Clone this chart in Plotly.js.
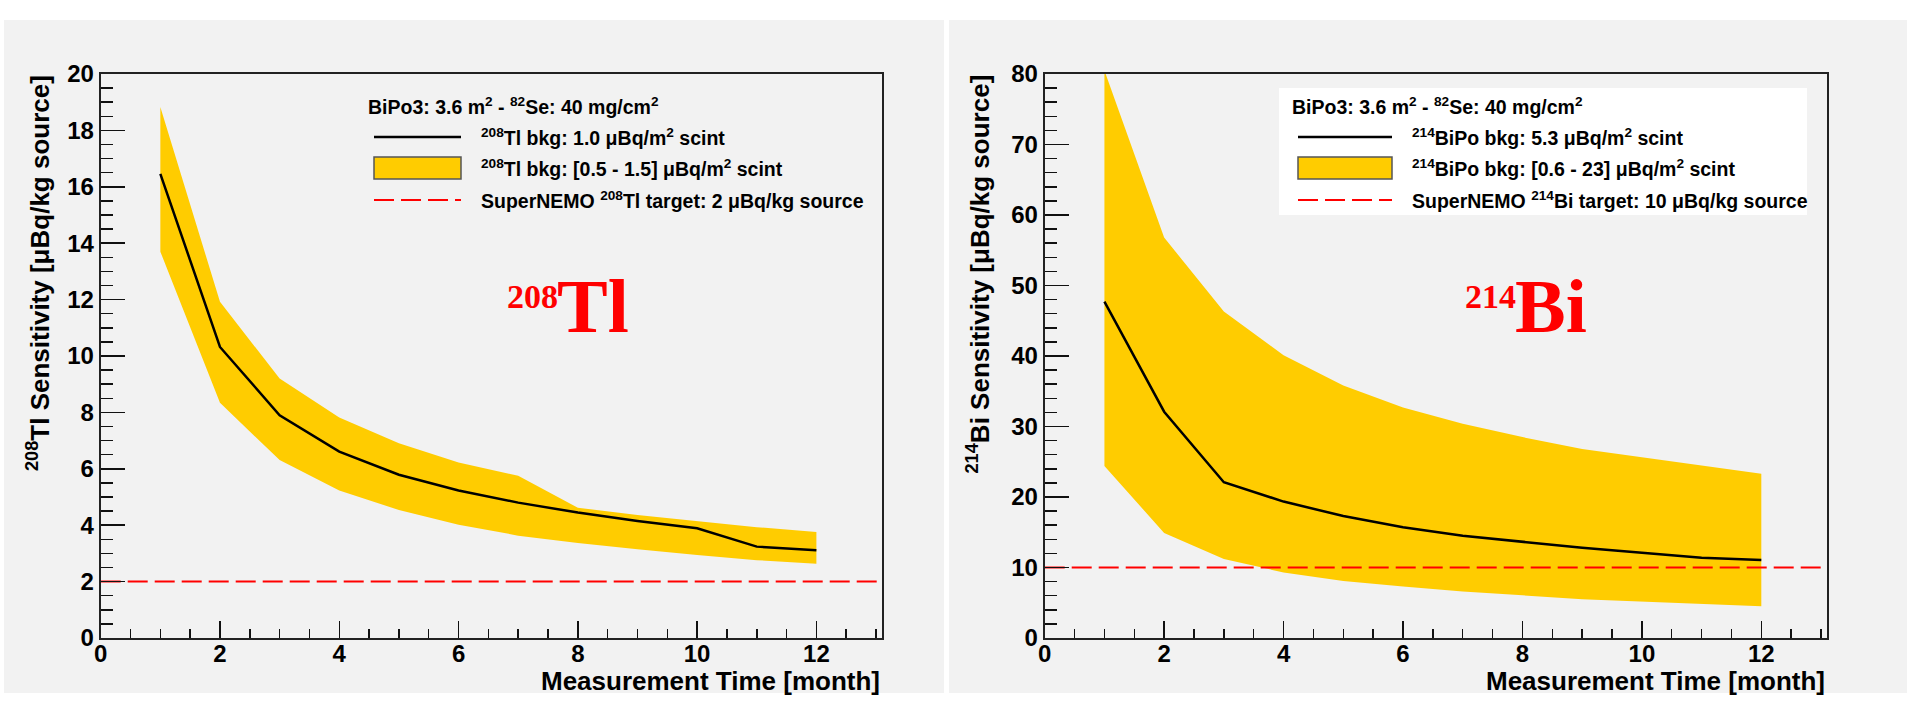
<!DOCTYPE html>
<html>
<head>
<meta charset="utf-8">
<script src="https://cdn.plot.ly/plotly-3.0.1.min.js"></script>
<style>
  html, body { margin: 0; padding: 0; background: #ffffff; }
  #chart { width: 1907px; height: 703px; }
</style>
</head>
<body>
<div id="chart"></div>
<script>
// Measurement time in months
const months = [1, 2, 3, 4, 5, 6, 7, 8, 9, 10, 11, 12];

// 208Tl sensitivity [uBq/kg source]
const tlNominal = [16.46, 10.32, 7.90, 6.61, 5.79, 5.23, 4.80, 4.45, 4.15, 3.89, 3.24, 3.11];
const tlUpper   = [18.83, 11.92, 9.20, 7.82, 6.91, 6.22, 5.75, 4.62, 4.36, 4.15, 3.93, 3.76];
const tlLower   = [13.70, 8.34, 6.31, 5.23, 4.54, 4.02, 3.63, 3.37, 3.15, 2.94, 2.76, 2.63];
const tlTarget  = 2;

// 214Bi sensitivity [uBq/kg source]
const biNominal = [47.7, 32.1, 22.1, 19.35, 17.3, 15.7, 14.5, 13.65, 12.8, 12.1, 11.4, 11.05];
const biUpper   = [80.5, 56.8, 46.3, 40.1, 35.8, 32.7, 30.4, 28.5, 26.8, 25.6, 24.5, 23.3];
const biLower   = [24.4, 14.9, 11.2, 9.3, 8.1, 7.3, 6.6, 6.05, 5.5, 5.2, 4.85, 4.5];
const biTarget  = 10;

// Axis ranges and tick labels
const xRange   = [0, 13.1];
const tlYRange = [0, 20];
const biYRange = [0, 80];
const xTicks   = [0, 2, 4, 6, 8, 10, 12];
const tlYTicks = [0, 2, 4, 6, 8, 10, 12, 14, 16, 18, 20];
const biYTicks = [0, 10, 20, 30, 40, 50, 60, 70, 80];

const W = 1907, H = 703;
const px = v => v / W;
const py = v => 1 - v / H;

const BAND = '#ffcc00';
const RED = '#ff0000';
const DASH = '20px,7px';
const FONT = 'Liberation Sans, Arial, Helvetica, sans-serif';
const SERIF = 'Liberation Serif, Times New Roman, serif';

function bandTrace(upper, lower, xa, ya) {
  return {
    x: months.concat(months.slice().reverse()),
    y: upper.concat(lower.slice().reverse()),
    xaxis: xa, yaxis: ya,
    type: 'scatter', mode: 'lines',
    fill: 'toself', fillcolor: BAND,
    line: { width: 0, color: BAND },
    hoverinfo: 'skip', showlegend: false
  };
}
function nominalTrace(vals, xa, ya) {
  return {
    x: months, y: vals, xaxis: xa, yaxis: ya,
    type: 'scatter', mode: 'lines',
    line: { color: '#000000', width: 2.5 },
    showlegend: false
  };
}
function targetTrace(val, xa, ya) {
  return {
    x: xRange, y: [val, val], xaxis: xa, yaxis: ya,
    type: 'scatter', mode: 'lines',
    line: { color: RED, width: 2, dash: DASH },
    showlegend: false
  };
}

const traces = [
  bandTrace(tlUpper, tlLower, 'x', 'y'),
  targetTrace(tlTarget, 'x', 'y'),
  nominalTrace(tlNominal, 'x', 'y'),
  bandTrace(biUpper, biLower, 'x2', 'y2'),
  targetTrace(biTarget, 'x2', 'y2'),
  nominalTrace(biNominal, 'x2', 'y2')
];

const tickFont = { family: FONT, size: 24, weight: 700, color: '#000000' };

function xAxis(domain, anchor) {
  return {
    domain: domain, anchor: anchor, range: xRange,
    tickmode: 'array', tickvals: xTicks, ticktext: xTicks.map(String),
    ticks: 'inside', ticklen: 17, tickwidth: 1.5, tickcolor: '#111',
    ticklabelstandoff: -7,
    minor: { ticks: 'inside', ticklen: 9, tickwidth: 1.5, tickcolor: '#111', dtick: 0.5, tick0: 0, showgrid: false },
    showline: true, linecolor: '#222', linewidth: 2, mirror: true,
    showgrid: false, zeroline: false, tickfont: tickFont, fixedrange: true
  };
}
function yAxis(domain, anchor, range, ticks, minorStep) {
  return {
    domain: domain, anchor: anchor, range: range,
    tickmode: 'array', tickvals: ticks, ticktext: ticks.map(String),
    ticks: 'inside', ticklen: 24, tickwidth: 1.5, tickcolor: '#111',
    minor: { ticks: 'inside', ticklen: 12, tickwidth: 1.5, tickcolor: '#111', dtick: minorStep, tick0: 0, showgrid: false },
    showline: true, linecolor: '#222', linewidth: 2, mirror: true,
    showgrid: false, zeroline: false, tickfont: tickFont, fixedrange: true
  };
}

const yDomain = [py(638), py(74)];

const shapes = [
  // gray canvas pads
  { type: 'rect', xref: 'paper', yref: 'paper', layer: 'below',
    x0: px(4), x1: px(944), y0: py(693), y1: py(20),
    fillcolor: '#f2f2f2', line: { width: 0 } },
  { type: 'rect', xref: 'paper', yref: 'paper', layer: 'below',
    x0: px(949), x1: px(1907), y0: py(693), y1: py(20),
    fillcolor: '#f2f2f2', line: { width: 0 } },
  // white legend box (right pad)
  { type: 'rect', xref: 'paper', yref: 'paper', layer: 'below',
    x0: px(1279), x1: px(1807), y0: py(215), y1: py(88),
    fillcolor: '#ffffff', line: { width: 0 } }
];

const annotations = [];
const LEG = 19.5;

function legend(x0, sampleX0, sampleX1, textX, lines) {
  annotations.push({
    xref: 'paper', yref: 'paper', x: px(x0), y: py(106),
    xanchor: 'left', yanchor: 'middle', showarrow: false,
    text: '<b>BiPo3: 3.6 m<sup>2</sup> - <sup>82</sup>Se: 40 mg/cm<sup>2</sup></b>',
    font: { family: FONT, size: LEG, color: '#000' }
  });
  shapes.push({ type: 'line', xref: 'paper', yref: 'paper',
    x0: px(sampleX0), x1: px(sampleX1), y0: py(137), y1: py(137),
    line: { color: '#000', width: 2.5 } });
  shapes.push({ type: 'rect', xref: 'paper', yref: 'paper',
    x0: px(sampleX0), x1: px(sampleX1), y0: py(179), y1: py(157),
    fillcolor: BAND, line: { color: '#555', width: 1.5 } });
  shapes.push({ type: 'line', xref: 'paper', yref: 'paper',
    x0: px(sampleX0), x1: px(sampleX1), y0: py(200), y1: py(200),
    line: { color: RED, width: 2, dash: DASH } });
  const ys = [137, 168, 200];
  lines.forEach((t, i) => annotations.push({
    xref: 'paper', yref: 'paper', x: px(textX), y: py(ys[i]),
    xanchor: 'left', yanchor: 'middle', showarrow: false,
    text: '<b>' + t + '</b>',
    font: { family: FONT, size: LEG, color: '#000' }
  }));
}

legend(366, 374, 461, 479, [
  '<sup>208</sup>Tl bkg: 1.0 μBq/m<sup>2</sup> scint',
  '<sup>208</sup>Tl bkg: [0.5 - 1.5] μBq/m<sup>2</sup> scint',
  'SuperNEMO <sup>208</sup>Tl target: 2 μBq/kg source'
]);
legend(1290, 1298, 1392, 1410, [
  '<sup>214</sup>BiPo bkg: 5.3 μBq/m<sup>2</sup> scint',
  '<sup>214</sup>BiPo bkg: [0.6 - 23] μBq/m<sup>2</sup> scint',
  'SuperNEMO <sup>214</sup>Bi target: 10 μBq/kg source'
]);

// axis titles
[882, 1827].forEach(xr => annotations.push({
  xref: 'paper', yref: 'paper', x: px(xr), y: py(681),
  xanchor: 'right', yanchor: 'middle', showarrow: false,
  text: '<b>Measurement Time [month]</b>',
  font: { family: FONT, size: 26, color: '#000' }
}));
[[38, '<sup>208</sup>Tl Sensitivity [μBq/kg source]'],
 [979, '<sup>214</sup>Bi Sensitivity [μBq/kg source]']].forEach(([xc, t]) => annotations.push({
  xref: 'paper', yref: 'paper', x: px(xc), y: py(73),
  xanchor: 'center', yanchor: 'top', showarrow: false, textangle: -90,
  text: '<b>' + t + '</b>',
  font: { family: FONT, size: 26, color: '#000' }
}));

// isotope labels: mass number and element symbol
[[505, 555, '208', 'Tl'], [1463, 1513, '214', 'Bi']].forEach(([xm, xs, mass, sym]) => {
  annotations.push({
    xref: 'paper', yref: 'paper', x: px(xm), y: py(297),
    xanchor: 'left', yanchor: 'middle', showarrow: false,
    text: '<b>' + mass + '</b>',
    font: { family: SERIF, size: 34, color: RED }
  });
  annotations.push({
    xref: 'paper', yref: 'paper', x: px(xs), y: py(306),
    xanchor: 'left', yanchor: 'middle', showarrow: false,
    text: '<b>' + sym + '</b>',
    font: { family: SERIF, size: 76, color: RED }
  });
});

const layout = {
  width: W, height: H,
  margin: { l: 0, r: 0, t: 0, b: 0 },
  paper_bgcolor: '#ffffff',
  plot_bgcolor: 'rgba(0,0,0,0)',
  showlegend: false,
  xaxis: xAxis([px(100.7), px(882)], 'y'),
  yaxis: yAxis(yDomain, 'x', tlYRange, tlYTicks, 0.5),
  xaxis2: xAxis([px(1044.7), px(1827)], 'y2'),
  yaxis2: yAxis(yDomain, 'x2', biYRange, biYTicks, 2),
  shapes: shapes,
  annotations: annotations
};

Plotly.newPlot('chart', traces, layout, { staticPlot: true, displayModeBar: false });
</script>
</body>
</html>
